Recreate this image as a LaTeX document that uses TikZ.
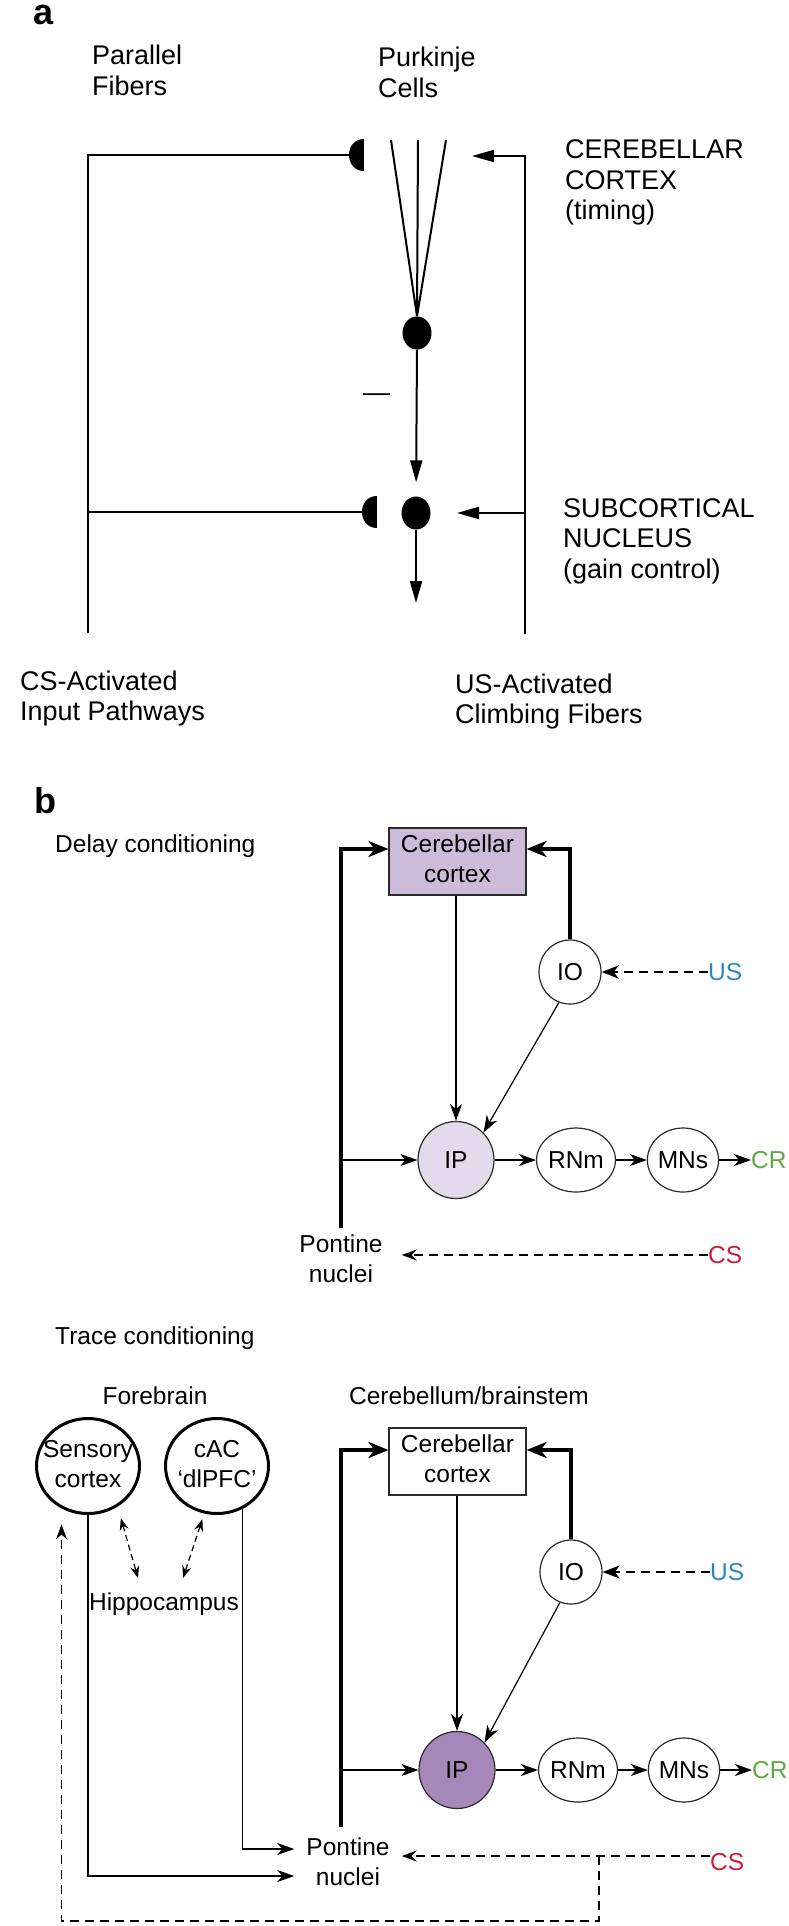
\documentclass[tikz,border=0pt]{standalone}
\usepackage{fontspec}
\setmainfont{Liberation Sans}
\usetikzlibrary{arrows.meta,shapes.geometric,calc}
\definecolor{cclav}{HTML}{CCBCDA}
\definecolor{iplight}{HTML}{E3DAEC}
\definecolor{ipdark}{HTML}{A687BA}
\definecolor{usblue}{HTML}{2B88C8}
\definecolor{csred}{HTML}{C81E3C}
\definecolor{crgreen}{HTML}{5CAB45}
\definecolor{edge}{HTML}{2A2A2A}
\newcommand\mlines[2]{\begin{tabular}[t]{@{}#1@{}}#2\end{tabular}}
\newcommand\cz[1]{\makebox[0pt]{\begin{tabular}{@{}c@{}}#1\end{tabular}}}
\begin{document}
\begin{tikzpicture}[x=1pt,y=-1pt,
  txtA/.style={inner sep=0pt, font=\fontsize{27}{30.5}\selectfont},
  txtB/.style={inner sep=0pt, font=\fontsize{24.5}{30}\selectfont},
  panel/.style={inner sep=0pt, font=\bfseries\fontsize{36}{36}\selectfont},
  wireA/.style={line width=2pt},
  tipA/.style={-{Triangle[length=22pt,width=12pt]}},
  soma/.style={ellipse, fill=black, minimum width=29pt, minimum height=33pt, inner sep=0pt},
  nucl/.style={ellipse, draw=edge, line width=1.2pt, minimum width=62pt, minimum height=64pt, inner sep=0pt, font=\fontsize{24.5}{30}\selectfont},
  ipbig/.style={minimum width=76pt, minimum height=77pt},
  fb/.style={ellipse, draw=black, line width=3pt, minimum width=103pt, minimum height=95pt, inner sep=0pt, font=\fontsize{24.5}{30}\selectfont},
  ccbox/.style={rectangle, draw=edge, line width=1.1pt, minimum width=137pt, minimum height=67pt, inner sep=0pt, font=\fontsize{24.5}{30}\selectfont},
  thinln/.style={line width=1.2pt, draw=black},
  tipB/.style={-{Stealth[length=17pt,width=12pt,inset=5pt]}},
  thickln/.style={line width=4pt},
  tipT/.style={-{Stealth[length=20pt,width=16pt,inset=6pt]}},
  usdash/.style={line width=2.6pt, dash pattern=on 9pt off 6pt, -{Stealth[length=17pt,width=13pt,inset=5pt]}},
  csdash/.style={line width=1.2pt, dash pattern=on 9pt off 6pt, -{Stealth[length=15pt,width=11pt,inset=5pt]}},
  dbl/.style={line width=1.2pt, dash pattern=on 6pt off 4pt, {Stealth[length=12pt,width=9pt,inset=4pt]}-{Stealth[length=12pt,width=9pt,inset=4pt]}}
]
\useasboundingbox (0,0) rectangle (788,1926);
\fill[white] (0,0) rectangle (788,1926);

% ---------------- panel a ----------------
\node[panel, anchor=base west] (la) at (33,25) {a};
\node[txtA, anchor=base west] (tPF) at (92,65) {\mlines{l}{Parallel\\Fibers}};
\node[txtA, anchor=base west] (tPC) at (378,67) {\mlines{l}{Purkinje\\Cells}};
\node[txtA, anchor=base west] (tCCx) at (565,159) {\mlines{l}{CEREBELLAR\\CORTEX\\(timing)}};
\node[txtA, anchor=base west] (tSN) at (563,517) {\mlines{l}{SUBCORTICAL\\NUCLEUS\\(gain control)}};
\node[txtA, anchor=base west] (tCSA) at (20,690) {\mlines{l}{CS-Activated\\Input Pathways}};
\node[txtA, anchor=base west] (tUSA) at (455,693) {\mlines{l}{US-Activated\\Climbing Fibers}};
\node[txtA, anchor=base west] (minus) at (363,401) {—};

\node[soma] (PC1) at (417,333) {};
\node[soma] (PC2) at (416,513) {};
\coordinate (f1) at (391,140);
\coordinate (f2) at (418,140);
\coordinate (f3) at (446,140);
\draw[wireA] (f1) -- (PC1.north) (f2) -- (PC1.north) (f3) -- (PC1.north);
\draw[wireA,tipA,shorten >=14pt] (PC1.south) -- (PC2.north);
\coordinate (outTip) at (416,603);
\draw[wireA,tipA] (PC2.south) -- (outTip);

% synapses
\fill (364,139) .. controls (344,139) and (344,171) .. (364,171) -- cycle;
\fill (377,496) .. controls (357,496) and (357,528) .. (377,528) -- cycle;
\coordinate (s1) at (350,155);
\coordinate (s2) at (363,512);
\coordinate (pfBot) at (88,633);
\draw[wireA] (pfBot) |- (s1);
\draw[wireA] (pfBot |- s2) -- (s2);
\coordinate (cfBot) at (525,634);
\coordinate (cfTip1) at (472,156);
\coordinate (cfTip2) at (457,513);
\draw[wireA,tipA] (cfBot) |- (cfTip1);
\draw[wireA,tipA] (cfBot |- cfTip2) -- (cfTip2);

% ---------------- panel b: delay ----------------
\node[panel, anchor=base west] (lb) at (34,813) {b};
\node[txtB, anchor=base west] (tDelay) at (55,852) {Delay conditioning};
\node[ccbox, fill=cclav] (CC1) at (457.5,861.5) {\cz{Cerebellar\\cortex}};
\node[nucl] (IO1) at (570,972) {IO};
\node[txtB, anchor=west, text=usblue] (US1) at (708,972) {US};
\node[nucl, ipbig, fill=iplight] (IP1) at (456,1160) {IP};
\node[nucl] (RN1) at (576,1160) {RNm};
\node[nucl] (MN1) at (683,1160) {MNs};
\node[txtB, anchor=west, text=crgreen] (CR1) at (751,1160) {CR};
\node[txtB, anchor=base, inner xsep=19pt] (PN1) at (341,1252) {\mlines{c}{Pontine\\nuclei}};
\node[txtB, anchor=west, text=csred] (CS1) at (708,1255) {CS};

\coordinate (thkT1) at (341,849);
\coordinate (thkB1) at (341,1228);
\draw[thickln,tipT] (thkB1) -- (thkT1) -- (thkT1 -| CC1.west);
\draw[thickln,tipT] (IO1.north) -- (IO1.north |- thkT1) -- (thkT1 -| CC1.east);
\draw[thinln,tipB] (CC1.south -| IP1.north) -- (IP1.north);
\draw[thinln,tipB] (IO1.250) -- (IP1.45);
\draw[thinln,tipB] (thkT1 |- IP1.west) -- (IP1.west);
\draw[thinln,tipB] (IP1.east) -- (RN1.west);
\draw[thinln,tipB] (RN1.east) -- (MN1.west);
\draw[thinln,tipB] (MN1.east) -- (CR1.west);
\draw[usdash] (US1.west) -- (IO1.east);
\draw[csdash] (CS1.west) -- (CS1.west -| PN1.east);

% ---------------- panel b: trace ----------------
\node[txtB, anchor=base west] (tTrace) at (55,1344) {Trace conditioning};
\node[txtB, anchor=base] (tFore) at (155,1404) {Forebrain};
\node[txtB, anchor=base] (tCB) at (469,1404) {Cerebellum/brainstem};
\node[fb] (SC) at (88,1466) {\cz{Sensory\\cortex}};
\node[fb] (CA) at (217,1466) {\cz{cAC\\‘dlPFC’}};
\node[txtB, anchor=base] (HC) at (164,1610) {Hippocampus};
\node[ccbox, fill=white] (CC2) at (457.5,1461.5) {\cz{Cerebellar\\cortex}};
\node[nucl] (IO2) at (571,1572) {IO};
\node[txtB, anchor=west, text=usblue] (US2) at (710,1572) {US};
\node[nucl, ipbig, fill=ipdark] (IP2) at (457,1770) {IP};
\node[nucl] (RN2) at (578,1770) {RNm};
\node[nucl] (MN2) at (684,1770) {MNs};
\node[txtB, anchor=west, text=crgreen] (CR2) at (752,1770) {CR};
\node[txtB, anchor=base, inner xsep=12pt] (PN2) at (348,1855) {\mlines{c}{Pontine\\nuclei}};
\node[txtB, anchor=west, text=csred] (CS2) at (710,1862) {CS};

\coordinate (thkT2) at (341,1450);
\coordinate (thkB2) at (341,1827);
\draw[thickln,tipT] (thkB2) -- (thkT2) -- (thkT2 -| CC2.west);
\draw[thickln,tipT] (IO2.north) -- (IO2.north |- thkT2) -- (thkT2 -| CC2.east);
\draw[thinln,tipB] (CC2.south -| IP2.north) -- (IP2.north);
\draw[thinln,tipB] (IO2.250) -- (IP2.45);
\draw[thinln,tipB] (thkT2 |- IP2.west) -- (IP2.west);
\draw[thinln,tipB] (IP2.east) -- (RN2.west);
\draw[thinln,tipB] (RN2.east) -- (MN2.west);
\draw[thinln,tipB] (MN2.east) -- (CR2.west);
\draw[usdash] (US2.west) -- (IO2.east);

\draw[thinln,tipB] (CA.301) |- ([yshift=15pt]PN2.west);
\draw[thinln,tipB] (SC.south) |- ([yshift=-12pt]PN2.west);
\draw[csdash] ([yshift=6pt]CS2.west) -- ([yshift=6pt]CS2.west -| PN2.east);
\coordinate (csj) at (599,1856);
\coordinate (dl) at (SC.238 |- 0,1921);
\draw[csdash, shorten >=16pt] (csj) |- (dl) -- (SC.238);

\draw[dbl, shorten <=12pt] (SC.306) -- ([xshift=-26pt,yshift=14pt]HC.north);
\draw[dbl, shorten <=6pt] (CA.255) -- ([xshift=19pt,yshift=14pt]HC.north);
\end{tikzpicture}
\end{document}
